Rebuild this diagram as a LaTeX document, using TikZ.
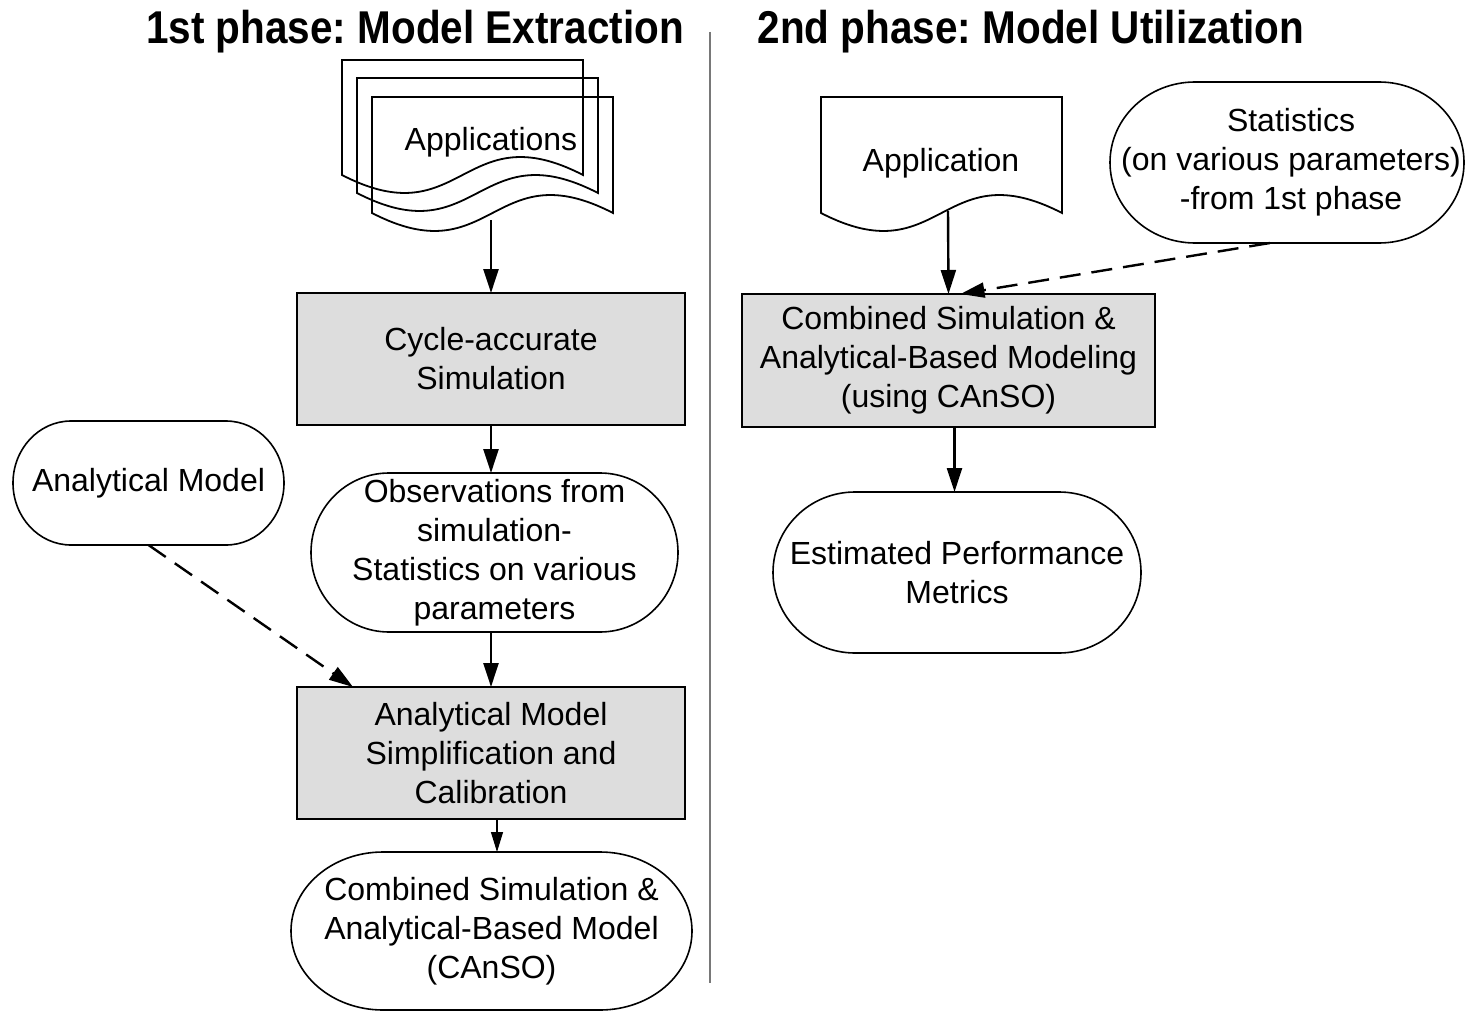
\documentclass[tikz,border=0pt]{standalone}
\usepackage{fontspec}
\setmainfont{Liberation Sans}
\usetikzlibrary{arrows.meta,calc}
\frenchspacing

\definecolor{boxfill}{RGB}{221,221,221}
\definecolor{divgray}{RGB}{120,120,120}

\tikzset{
  txt/.style={font=\fontsize{32}{39}\selectfont, align=center, inner sep=0pt, outer sep=0pt},
  titletxt/.style={font=\fontsize{46}{50}\selectfont\bfseries, inner sep=0pt},
  procbox/.style={txt, draw, line width=2.6pt, fill=boxfill},
  termnode/.style={txt},
  termline/.style={line width=1.6pt},
  docline/.style={line width=1.8pt},
  divline/.style={divgray, line width=1.5pt},
  flow/.style={line width=2.4pt, -{Triangle[length=24pt,width=15pt]}},
  thinflow/.style={line width=1.2pt, -{Triangle[length=20pt,width=12pt]}},
  dashflow/.style={line width=2.4pt, dash pattern=on 21pt off 11pt, -{Triangle[length=24pt,width=15pt]}},
}

% terminator outline with elliptical ends around a named node
\newcommand\termoutline[2]{%
  \draw[termline] let \p1=(#1.north west), \p2=(#1.south east), \n1={(\y1-\y2)/2} in
    ({\x1+#2},\y1) -- ({\x2-#2},\y1)
    arc[start angle=90, end angle=-90, x radius=#2, y radius=\n1]
    -- ({\x1+#2},\y2)
    arc[start angle=270, end angle=90, x radius=#2, y radius=\n1] -- cycle;}

% document page with wavy bottom edge: left x, top y, width, height, wave amplitude
\newcommand\docpage[5]{%
  \draw[docline] (#1,-#2) -- ({#1+#3},-#2) -- ({#1+#3},{-#2-#4})
    .. controls ({#1+#3/2},{-#2-#4+3.46*#5}) and ({#1+#3/2},{-#2-#4-3.46*#5}) .. (#1,{-#2-#4}) -- cycle;}

\begin{document}
\begin{tikzpicture}[x=1pt,y=1pt]
\useasboundingbox (0,0) rectangle (1466,-1011);
\fill[white] (0,0) rectangle (1466,-1011);

% phase titles and divider
\node (t1) [titletxt, anchor=base] at (415,-44) {\scalebox{0.88}[1]{1st phase: Model Extraction}};
\node (t2) [titletxt, anchor=base] at (1031,-44) {\scalebox{0.88}[1]{2nd phase: Model Utilization}};
\coordinate (divtop) at (710,-32);
\coordinate (divbot) at (710,-983);
\draw[divline] (divtop) -- (divbot);

% ---------- first phase ----------
\docpage{342}{60}{241}{115}{18}
\docpage{357}{78}{241}{115}{18}
\docpage{372}{97}{241}{116}{18}
\node (apps) [txt] at (491,-142) {Applications};
\coordinate (appsout) at (491,-220);

\node (cyc) [procbox, minimum width=388pt, minimum height=132pt] at (491,-359)
  {Cycle-accurate\\Simulation};

\node (am) [termnode, minimum width=271pt, minimum height=124pt] at (148.5,-483) {Analytical Model};
\termoutline{am}{58pt}

\node (obs) [termnode, minimum width=367pt, minimum height=159pt] at (494.5,-552.5)
  {Observations from\\simulation-\\Statistics on various\\parameters};
\termoutline{obs}{78pt}

\node (simp) [procbox, minimum width=388pt, minimum height=132pt] at (491,-753)
  {Analytical Model\\Simplification and\\Calibration};

\node (cmod) [termnode, minimum width=401pt, minimum height=158pt] at (491.5,-931)
  {Combined Simulation \&\\Analytical-Based Model\\(CAnSO)};
\termoutline{cmod}{92pt}

\coordinate (simpout) at ($(simp.south)+(6,0)$);

\draw[flow] (appsout) -- (cyc.north);
\draw[flow] (cyc.south) -- (cyc.south |- obs.north);
\draw[flow] (simp.north |- obs.south) -- (simp.north);
\draw[dashflow] (am.south) -- ($(simp.north west)+(56,0)$);
\draw[thinflow] (simpout) -- (simpout |- cmod.north);

% ---------- second phase ----------
\docpage{821}{97}{241}{116}{18}
\node (app) [txt] at (941,-163) {Application};
\coordinate (appout) at (948,-211);

\node (stat) [termnode, minimum width=354pt, minimum height=161pt] at (1287,-162.5)
  {\hspace*{8pt}Statistics\\\hspace*{8pt}(on various parameters)\\\hspace*{8pt}-from 1st phase};
\termoutline{stat}{85pt}

\node (comb) [procbox, minimum width=413pt, minimum height=133pt] at (948.5,-360.5)
  {Combined Simulation \&\\Analytical-Based Modeling\\(using CAnSO)};

\node (est) [termnode, minimum width=368pt, minimum height=161pt] at (957,-572.5)
  {Estimated Performance\\Metrics};
\termoutline{est}{82pt}

\coordinate (combout) at ($(comb.south)+(6,0)$);

\draw[flow] (appout) -- (comb.north);
\draw[dashflow] ($(stat.south)+(-17,0)$) -- ($(comb.north)+(12,0)$);
\draw[flow] (combout) -- (combout |- est.north);
\end{tikzpicture}
\end{document}
